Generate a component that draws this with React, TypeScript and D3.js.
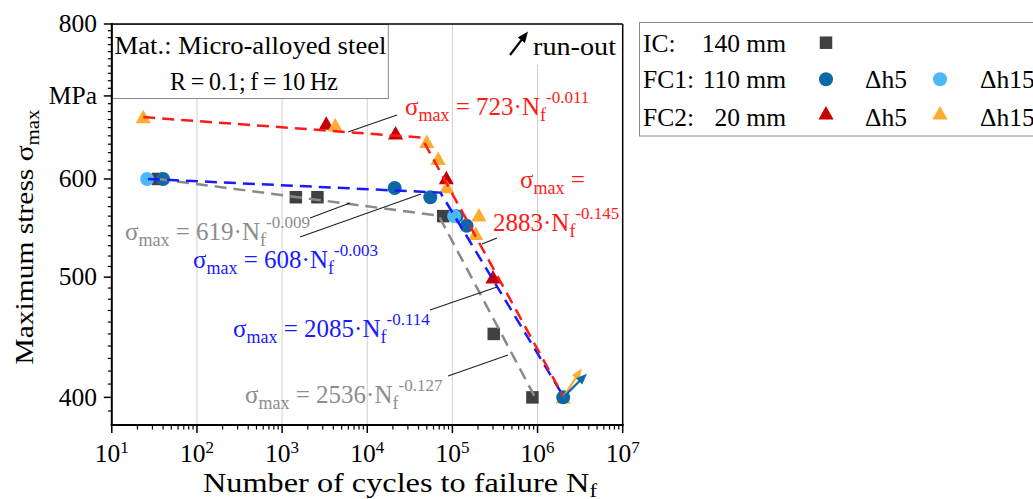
import React from 'react';
import * as d3 from 'd3';

// ---------- data ----------
const icN = [35, 1450, 2600, 78000, 306000, 870000];
const icS = [600, 580, 580, 560, 450, 400];
const fc1h5N = [40, 21000, 55000, 112000, 147000];
const fc1h5S = [600, 590, 580, 560, 550];
const fc1h15N = [26, 105000];
const fc1h15S = [600, 560];
const fc2h5N = [3300, 21500, 85000, 300000];
const fc2h5S = [665, 653, 601, 500];
const fc2h15N = [23.4, 4200, 50000, 68000, 86000, 188000, 205000];
const fc2h15S = [673, 663, 643, 623, 591, 542, 561];
// run-outs (same point for FC2 Δh15 and FC1 Δh5)
const runoutN = [2000000, 2000000];
const runoutS = [400, 400];
const runoutTipN = [3300000, 3800000];
const runoutTipS = [422, 418];

// fitted curves (vertices of the dashed lines)
const fitRedN = [23.4, 43300, 2000000];
const fitRedS = [673, 648, 401];
const fitBlueN = [26.6, 72300, 2000000];
const fitBlueS = [600, 585, 401];
const fitGrayN = [35, 69000, 1000000];
const fitGrayS = [600, 560.5, 396.6];

const xTickExps = [1, 2, 3, 4, 5, 6, 7];
const yTickVals = [400, 500, 600, 700, 800];
const yTickLabels = ['400', '500', '600', 'MPa', '800'];

const eqCoefs = ['723', '2883', '619', '608', '2085', '2536'];
const eqExps = ['-0.011', '-0.145', '-0.009', '-0.003', '-0.114', '-0.127'];

const legendGroups = ['IC:', 'FC1:', 'FC2:'];
const legendSizes = ['140 mm', '110 mm', '20 mm'];
const legendSub = ['Δh5', 'Δh15'];

// ---------- layout ----------
const W = 1033;
const H = 499;
const L = 111.8, R = 622.7, T = 24, B = 425;
const FONT = '"Liberation Serif", "DejaVu Serif", serif';

const C = {
  sq: '#404040',
  dblue: '#0e68a8',
  lblue: '#4cb8f8',
  dred: '#c40000',
  orange: '#ffaa30',
  red: '#ff1a1a',
  blue: '#1a1aff',
  gray: '#8a8a8a',
  grayText: '#8c8c8c',
  grid: '#cfcfcf',
};

const x = d3.scaleLog().domain([10, 1e7]).range([L, R]);
const y = d3.scaleLog().domain([380, 800]).range([B, T]);

const line = d3
  .line<[number, number]>()
  .x((d) => x(d[0]))
  .y((d) => y(d[1]));

const zip = (a: number[], b: number[]) => a.map((v, i) => [v, b[i]] as [number, number]);

function Tri({ cx, cy, fill }: { cx: number; cy: number; fill: string }) {
  const w = 7.6, h = 13.5;
  return (
    <path
      d={`M${cx},${cy - h / 2 - 0.5}L${cx + w},${cy + h / 2 - 0.5}L${cx - w},${cy + h / 2 - 0.5}Z`}
      fill={fill}
    />
  );
}
function Sq({ cx, cy, fill }: { cx: number; cy: number; fill: string }) {
  const s = 12.5;
  return <rect x={cx - s / 2} y={cy - s / 2} width={s} height={s} fill={fill} />;
}
function Circ({ cx, cy, fill }: { cx: number; cy: number; fill: string }) {
  return <circle cx={cx} cy={cy} r={7} fill={fill} />;
}

function Arrow({ x1, y1, x2, y2, color, w = 2 }: any) {
  const a = Math.atan2(y2 - y1, x2 - x1);
  const hl = 11, hw = 4.5;
  const bx = x2 - hl * Math.cos(a), by = y2 - hl * Math.sin(a);
  const p1 = [bx + hw * Math.sin(a), by - hw * Math.cos(a)];
  const p2 = [bx - hw * Math.sin(a), by + hw * Math.cos(a)];
  return (
    <g>
      <line x1={x1} y1={y1} x2={bx + 2 * Math.cos(a)} y2={by + 2 * Math.sin(a)} stroke={color} strokeWidth={w} />
      <path d={`M${x2},${y2}L${p1[0]},${p1[1]}L${p2[0]},${p2[1]}Z`} fill={color} />
    </g>
  );
}

function Eq({ px, py, coef, exp, color, part }: any) {
  if (part === 'head') {
    return (
      <text x={px} y={py} fill={color} fontSize={25} fontFamily={FONT}>
        σ<tspan fontSize={18} dy={6}>max</tspan>
        <tspan dy={-6} fontSize={25}>{' ='}</tspan>
      </text>
    );
  }
  if (part === 'tail') {
    return (
      <text x={px} y={py} fill={color} fontSize={25} fontFamily={FONT}>
        <tspan fontSize={25}>{`${coef}·N`}</tspan>
        <tspan fontSize={18} dy={6}>f</tspan>
        <tspan fontSize={17} dy={-18}>{exp}</tspan>
      </text>
    );
  }
  return (
    <text x={px} y={py} fill={color} fontSize={25} fontFamily={FONT}>
      σ<tspan fontSize={18} dy={6}>max</tspan>
      <tspan fontSize={25} dy={-6}>{` = ${coef}·N`}</tspan>
      <tspan fontSize={18} dy={6}>f</tspan>
      <tspan fontSize={17} dy={-18}>{exp}</tspan>
    </text>
  );
}

// annotation placements (pixels)
const eqPlace = [
  { px: 405, py: 115, color: C.red, part: 'all' },
  { px: 493, py: 231, color: C.red, part: 'tail', head: { px: 520, py: 188 } },
  { px: 125, py: 240, color: C.grayText, part: 'all' },
  { px: 193, py: 268, color: C.blue, part: 'all' },
  { px: 233, py: 337, color: C.blue, part: 'all' },
  { px: 245, py: 403, color: C.grayText, part: 'all' },
];
const leaders = [
  [348, 132, 397, 115],
  [482, 244, 497, 238],
  [310, 218, 350, 203],
  [300, 237, 421, 194],
  [430, 310, 497, 287],
  [448, 376, 508, 355],
];

export default function App() {
  const yMinor: number[] = [];
  for (let v = 390; v < 800; v += 10) if (!yTickVals.includes(v)) yMinor.push(v);
  const xMinor: number[] = [];
  for (let d = 1; d < 7; d++) for (let k = 2; k <= 9; k++) xMinor.push(k * Math.pow(10, d));

  const dash = '12 7';

  return (
    <svg
      width={W}
      height={H}
      viewBox={`0 0 ${W} ${H}`}
      style={{ position: 'absolute', left: 0, top: 0, background: '#fff' }}
      fontFamily={FONT}
    >
      <rect x={0} y={0} width={W} height={H} fill="#fff" />
      {/* grid */}
      {xTickExps.slice(1, -1).map((e) => (
        <line key={e} x1={x(10 ** e)} x2={x(10 ** e)} y1={T} y2={B} stroke={C.grid} strokeWidth={1} />
      ))}
      {/* material box */}
      <rect x={L + 0.5} y={T + 0.5} width={276} height={74} fill="#fff" stroke="#8a8a8a" strokeWidth={1} />
      <text x={114.5} y={53.5} fontSize={25.5} textLength={272} lengthAdjust="spacingAndGlyphs">
        Mat.: Micro-alloyed steel
      </text>
      <text x={170} y={90} fontSize={25.5} textLength={168} lengthAdjust="spacingAndGlyphs">
        {'R\u2009=\u20090.1;\u2009f\u2009=\u200910\u2009Hz'}
      </text>
      {/* run-out key */}
      <rect x={503} y={T + 1} width={R - 504} height={40} fill="#fff" />
      <Arrow x1={510} y1={55} x2={528} y2={31.5} color="#000" w={2.2} />
      <text x={533} y={55} fontSize={25.5} textLength={83} lengthAdjust="spacingAndGlyphs">
        run-out
      </text>

      {/* markers */}
      {zip(icN, icS).map((d, i) => (
        <Sq key={'s' + i} cx={x(d[0])} cy={y(d[1])} fill={C.sq} />
      ))}
      {zip(fc1h5N, fc1h5S).map((d, i) => (
        <Circ key={'c' + i} cx={x(d[0])} cy={y(d[1])} fill={C.dblue} />
      ))}
      {zip(fc1h15N, fc1h15S).map((d, i) => (
        <Circ key={'l' + i} cx={x(d[0])} cy={y(d[1])} fill={C.lblue} />
      ))}
      {zip(fc2h5N, fc2h5S).map((d, i) => (
        <Tri key={'r' + i} cx={x(d[0])} cy={y(d[1])} fill={C.dred} />
      ))}
      {zip(fc2h15N, fc2h15S).map((d, i) => (
        <Tri key={'o' + i} cx={x(d[0])} cy={y(d[1])} fill={C.orange} />
      ))}
      {/* run-out points */}
      <Tri cx={x(runoutN[0])} cy={y(runoutS[0])} fill={C.orange} />
      <Circ cx={x(runoutN[1])} cy={y(runoutS[1])} fill={C.dblue} />

      {/* fits */}
      <path d={line(zip(fitGrayN, fitGrayS)) || ''} fill="none" stroke={C.gray} strokeWidth={2.5} strokeDasharray={dash} />
      <path d={line(zip(fitBlueN, fitBlueS)) || ''} fill="none" stroke={C.blue} strokeWidth={2.5} strokeDasharray={dash} />
      <path d={line(zip(fitRedN, fitRedS)) || ''} fill="none" stroke={C.red} strokeWidth={2.5} strokeDasharray={dash} />

      {/* run-out arrows */}
      <Arrow
        x1={x(runoutN[0])}
        y1={y(runoutS[0])}
        x2={x(runoutTipN[0])}
        y2={y(runoutTipS[0])}
        color={C.orange}
        w={2.2}
      />
      <Arrow
        x1={x(runoutN[1])}
        y1={y(runoutS[1])}
        x2={x(runoutTipN[1])}
        y2={y(runoutTipS[1])}
        color={C.dblue}
        w={2.2}
      />

      {/* leaders */}
      {leaders.map((l, i) => (
        <line key={'ld' + i} x1={l[0]} y1={l[1]} x2={l[2]} y2={l[3]} stroke="#222" strokeWidth={1.2} />
      ))}
      {/* equations */}
      {eqPlace.map((p, i) => (
        <g key={'eq' + i}>
          <Eq px={p.px} py={p.py} coef={eqCoefs[i]} exp={eqExps[i]} color={p.color} part={p.part} />
          {p.head && <Eq px={p.head.px} py={p.head.py} color={p.color} part="head" />}
        </g>
      ))}

      {/* frame */}
      <line x1={L} x2={R} y1={T} y2={T} stroke="#000" strokeWidth={1.5} />
      <line x1={R} x2={R} y1={T} y2={B} stroke="#000" strokeWidth={1.5} />
      <line x1={L} x2={L} y1={T - 1} y2={B + 1} stroke="#000" strokeWidth={2} />
      <line x1={L - 1} x2={R + 1} y1={B} y2={B} stroke="#000" strokeWidth={2} />

      {/* y ticks */}
      {yMinor.map((v) => (
        <line key={'ym' + v} x1={L - 4} x2={L} y1={y(v)} y2={y(v)} stroke="#000" strokeWidth={1.2} />
      ))}
      {yTickVals.map((v, i) => (
        <g key={'yt' + v}>
          <line x1={L - 8} x2={L} y1={y(v)} y2={y(v)} stroke="#000" strokeWidth={1.5} />
          <text x={97} y={y(v) + 8.3} textAnchor="end" fontSize={25.5}>
            {yTickLabels[i]}
          </text>
        </g>
      ))}
      {/* x ticks */}
      {xMinor.map((v) => (
        <line key={'xm' + v} x1={x(v)} x2={x(v)} y1={B} y2={B + 4.5} stroke="#000" strokeWidth={1.2} />
      ))}
      {xTickExps.map((e) => (
        <g key={'xt' + e}>
          <line x1={x(10 ** e)} x2={x(10 ** e)} y1={B} y2={B + 8} stroke="#000" strokeWidth={1.5} />
          <text x={x(10 ** e)} y={461.7} textAnchor="middle" fontSize={25.5}>
            10<tspan fontSize={17} dy={-9}>{e}</tspan>
          </text>
        </g>
      ))}

      {/* axis titles */}
      <text x={203} y={492} fontSize={27} textLength={394} lengthAdjust="spacingAndGlyphs">
        Number of cycles to failure N<tspan fontSize={19} dy={5}>f</tspan>
      </text>
      <text
        transform="translate(33,237) rotate(-90)"
        textAnchor="middle"
        fontSize={25.5}
        textLength={255}
        lengthAdjust="spacingAndGlyphs"
      >
        Maximum stress σ<tspan fontSize={18} dy={6}>max</tspan>
      </text>

      {/* legend */}
      <rect x={639.5} y={22.5} width={W} height={113.5} fill="#fff" stroke="#8a8a8a" strokeWidth={1} />
      {legendGroups.map((g, i) => {
        const by = [51.7, 88.3, 125.5][i];
        const my = [42.7, 79.3, 113.3][i];
        return (
          <g key={'lg' + i}>
            <text x={643} y={by} fontSize={25.5}>
              {g}
            </text>
            <text x={786} y={by} textAnchor="end" fontSize={25.5}>
              {legendSizes[i]}
            </text>
            {i === 0 && <Sq cx={826} cy={my} fill={C.sq} />}
            {i === 1 && (
              <>
                <Circ cx={826} cy={my} fill={C.dblue} />
                <Circ cx={940} cy={my} fill={C.lblue} />
              </>
            )}
            {i === 2 && (
              <>
                <Tri cx={826} cy={my} fill={C.dred} />
                <Tri cx={940} cy={my} fill={C.orange} />
              </>
            )}
            {i > 0 && (
              <>
                <text x={865} y={by} fontSize={25.5}>
                  {legendSub[0]}
                </text>
                <text x={980} y={by} fontSize={25.5}>
                  {legendSub[1]}
                </text>
              </>
            )}
          </g>
        );
      })}
    </svg>
  );
}
